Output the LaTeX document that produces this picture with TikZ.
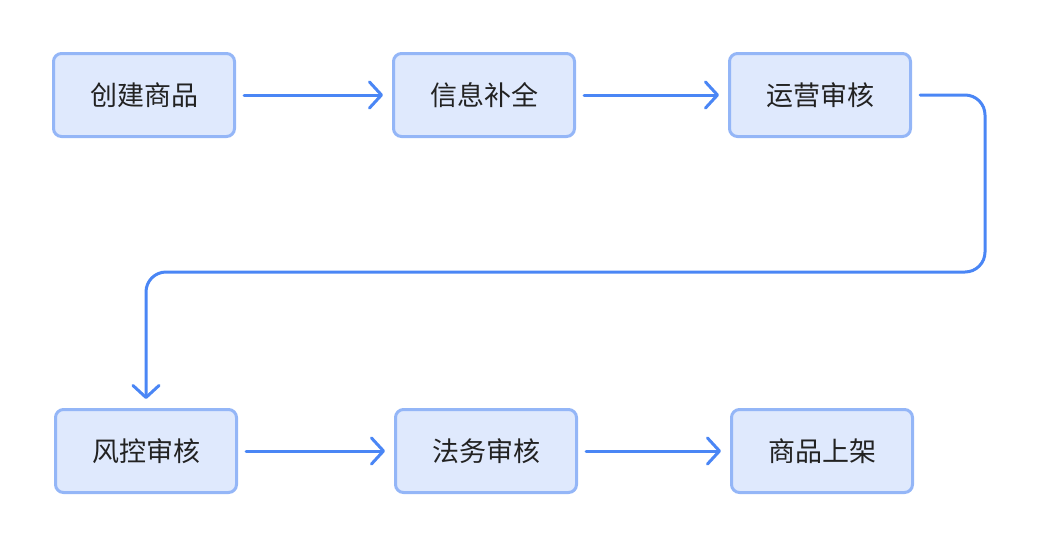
\documentclass[tikz,border=0pt]{standalone}
\usepackage{fontspec}
\setmainfont{Noto Sans CJK SC}
\usetikzlibrary{arrows.meta, positioning}

\definecolor{boxfill}{HTML}{DFE9FD}
\definecolor{boxline}{HTML}{94B6F7}
\definecolor{flowline}{HTML}{4A86F5}
\definecolor{txt}{HTML}{222222}

\begin{document}
\begin{tikzpicture}[x=1pt, y=-1pt,
  stage/.style={draw=boxline, line width=3pt, fill=boxfill, rounded corners=8pt,
    minimum width=181pt, minimum height=83pt, inner sep=0pt,
    text=txt, font=\fontsize{27}{31}\selectfont},
  flow/.style={draw=flowline, line width=3pt, line cap=round,
    -{Straight Barb[length=12pt, width=26pt, line width=3pt, round]},
    shorten <=8pt, shorten >=9pt}]

\useasboundingbox (0,0) rectangle (1048,544);

% top row
\node[stage] (create) at (144,95) {创建商品};
\node[stage] (info) at (484,95) {信息补全};
\node[stage] (ops) at (820,95) {运营审核};

% bottom row
\node[stage] (risk) at (146,451) {风控审核};
\node[stage] (legal) at (486,451) {法务审核};
\node[stage] (shelf) at (822,451) {商品上架};

\draw[flow] (create) -- (info);
\draw[flow] (info) -- (ops);

\coordinate (turnR) at (985,272);
\coordinate (turnL) at (146,272);
\draw[flow, rounded corners=20pt] (ops.east) -| (turnR) -- (turnL) -- (risk.north);

\draw[flow] (risk) -- (legal);
\draw[flow] (legal) -- (shelf);
\end{tikzpicture}
\end{document}
